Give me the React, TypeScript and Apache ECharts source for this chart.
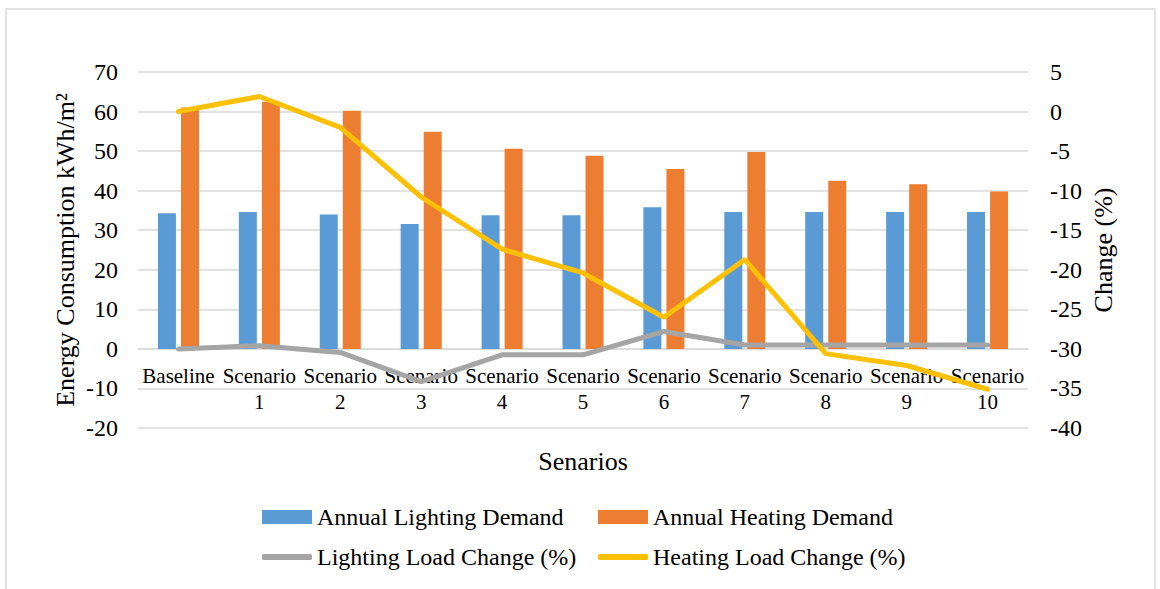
import React, { useEffect, useRef } from "react";
import * as echarts from "echarts";

const categories = ["Baseline", "Scenario\n1", "Scenario\n2", "Scenario\n3", "Scenario\n4", "Scenario\n5", "Scenario\n6", "Scenario\n7", "Scenario\n8", "Scenario\n9", "Scenario\n10"];
const lightingDemand = [34.3, 34.6, 34.0, 31.6, 33.8, 33.8, 35.8, 34.6, 34.6, 34.6, 34.6];
const heatingDemand = [61.0, 62.5, 60.2, 54.9, 50.6, 48.8, 45.5, 49.8, 42.5, 41.6, 39.8];
const lightingChange = [0, 0.8, -0.9, -8.3, -1.5, -1.5, 4.4, 1.0, 1.0, 1.0, 1.0];
const heatingChange = [0, 1.9, -2.0, -10.8, -17.4, -20.4, -26.0, -18.7, -30.6, -32.1, -35.1];

const FONT = "Liberation Serif, Times New Roman, serif";

const GRID_TOP = 72;
const GRID_BOTTOM_PX = 428;
const LEFT_MIN = -20;
const LEFT_MAX = 70;
// place the category axis at the zero line of the primary value axis
const zeroOffset = -((GRID_BOTTOM_PX - GRID_TOP) * (0 - LEFT_MIN)) / (LEFT_MAX - LEFT_MIN);

function legendItem(name: string, left: number, top: number, line: boolean) {
  return {
    left,
    top,
    padding: 0,
    itemWidth: 50,
    itemHeight: line ? 6 : 14,
    icon: line ? "roundRect" : "rect",
    textStyle: { fontFamily: FONT, fontSize: 24, color: "#000" },
    data: [name],
  };
}

export default function App() {
  const ref = useRef<HTMLDivElement>(null);
  useEffect(() => {
    document.body.style.margin = "0";
    const chart = echarts.init(ref.current!, undefined, { renderer: "svg" });
    chart.setOption({
      animation: false,
      backgroundColor: "#fff",
      textStyle: { fontFamily: FONT, color: "#000" },
      grid: { left: 138, right: 132, top: GRID_TOP, bottom: 589 - GRID_BOTTOM_PX, containLabel: false },
      graphic: [
        {
          type: "polyline",
          shape: { points: [[6, 589], [6, 9], [1155, 9], [1155, 589]] },
          style: { stroke: "#D9D9D9", lineWidth: 1.5, fill: "none" },
          silent: true,
        },
      ],
      legend: [
        legendItem("Annual Lighting Demand", 262, 505, false),
        legendItem("Annual Heating Demand", 598, 505, false),
        legendItem("Lighting Load Change (%)", 262, 545, true),
        legendItem("Heating Load Change (%)", 598, 545, true),
      ],
      xAxis: {
        type: "category",
        data: categories,
        offset: zeroOffset,
        axisLine: { onZero: false, lineStyle: { color: "#D9D9D9", width: 1.5 } },
        axisTick: { show: false },
        axisLabel: { interval: 0, fontFamily: FONT, fontSize: 21, color: "#000", lineHeight: 26, margin: 14 },
        name: "Senarios",
        nameLocation: "middle",
        nameGap: 100,
        nameMoveOverlap: false,
        nameTextStyle: { fontFamily: FONT, fontSize: 26, color: "#000" },
      },
      yAxis: [
        {
          type: "value",
          min: LEFT_MIN,
          max: LEFT_MAX,
          interval: 10,
          axisLine: { show: false },
          axisTick: { show: false },
          splitLine: { lineStyle: { color: "#D9D9D9", width: 1.5 } },
          axisLabel: { fontFamily: FONT, fontSize: 24, color: "#000", margin: 20 },
          name: "Energy Consumption kWh/m²",
          nameLocation: "middle",
          nameGap: 60,
          nameMoveOverlap: false,
          nameTextStyle: { fontFamily: FONT, fontSize: 26, color: "#000" },
        },
        {
          type: "value",
          min: -40,
          max: 5,
          interval: 5,
          axisLine: { show: false },
          axisTick: { show: false },
          splitLine: { show: false },
          axisLabel: { fontFamily: FONT, fontSize: 24, color: "#000", margin: 22 },
          name: "Change (%)",
          nameLocation: "middle",
          nameGap: 62,
          nameMoveOverlap: false,
          nameTextStyle: { fontFamily: FONT, fontSize: 26, color: "#000" },
        },
      ],
      series: [
        {
          name: "Annual Lighting Demand",
          type: "bar",
          data: lightingDemand,
          yAxisIndex: 0,
          barWidth: 18,
          barGap: "28%",
          itemStyle: { color: "#5B9BD5" },
        },
        {
          name: "Annual Heating Demand",
          type: "bar",
          data: heatingDemand,
          yAxisIndex: 0,
          barWidth: 18,
          barGap: "28%",
          itemStyle: { color: "#ED7D31" },
        },
        {
          name: "Lighting Load Change (%)",
          type: "line",
          data: lightingChange,
          yAxisIndex: 0,
          symbol: "none",
          lineStyle: { color: "#A5A5A5", width: 5, cap: "round" },
          itemStyle: { color: "#A5A5A5" },
        },
        {
          name: "Heating Load Change (%)",
          type: "line",
          data: heatingChange,
          yAxisIndex: 1,
          symbol: "none",
          lineStyle: { color: "#FFC000", width: 5, cap: "round" },
          itemStyle: { color: "#FFC000" },
        },
      ],
    });
    return () => chart.dispose();
  }, []);
  return <div ref={ref} style={{ width: 1160, height: 589 }} />;
}
